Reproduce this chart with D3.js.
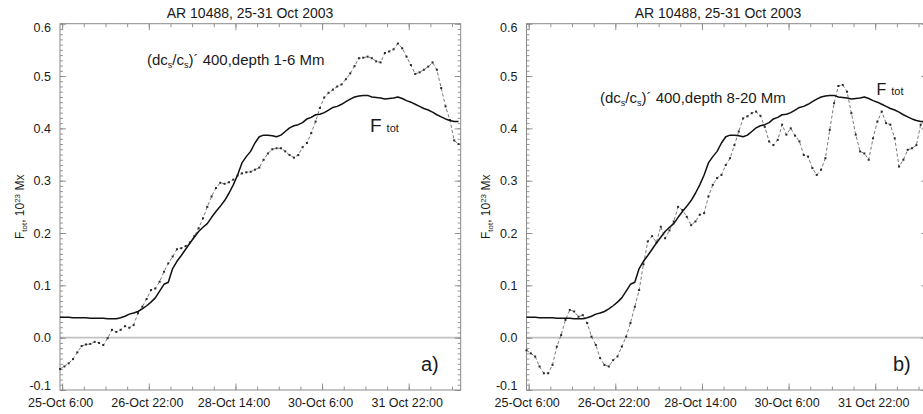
<!DOCTYPE html>
<html><head><meta charset="utf-8">
<script src="https://cdn.jsdelivr.net/npm/d3@7"></script>
<style>
body{margin:0;background:#fff}
svg{display:block}
text{font-family:"Liberation Sans",Arial,sans-serif;fill:#1a1a1a}
</style>
</head><body>
<svg id="chart" width="923" height="414"></svg>
<script>
// time axis: hours since 25-Oct-2003 00:00, samples every 2 hours
const TIME_START = 5;
const TIME_STEP = 2;
const X_DOMAIN = [5, 190];
const Y_DOMAIN = [-0.1, 0.6];

// total magnetic flux F_tot (10^23 Mx) - same curve in both panels
const F_TOT = [
 0.039,0.039,0.039,0.038,0.038,0.038,0.038,0.037,0.037,0.037,
 0.037,0.036,0.036,0.036,0.038,0.041,0.045,0.047,0.050,0.055,
 0.061,0.068,0.076,0.089,0.102,0.106,0.132,0.146,0.157,0.169,
 0.181,0.192,0.203,0.211,0.218,0.230,0.241,0.251,0.262,0.276,
 0.292,0.311,0.334,0.346,0.356,0.372,0.384,0.387,0.387,0.386,
 0.384,0.387,0.394,0.401,0.405,0.407,0.411,0.418,0.421,0.426,
 0.427,0.430,0.435,0.440,0.442,0.446,0.451,0.456,0.460,0.462,
 0.463,0.463,0.460,0.459,0.458,0.456,0.457,0.458,0.460,0.457,
 0.453,0.450,0.446,0.442,0.438,0.435,0.431,0.426,0.422,0.418,
 0.415,0.413,0.413
];

// (dcs/cs)' 400, depth 1-6 Mm
const DCS_DEPTH_1_6 = [
 -0.060,-0.055,-0.049,-0.041,-0.028,-0.016,-0.013,-0.012,-0.008,-0.010,
 -0.014,-0.001,0.015,0.011,0.015,0.022,0.019,0.024,0.047,0.059,
 0.074,0.091,0.094,0.107,0.126,0.142,0.155,0.169,0.171,0.175,
 0.182,0.194,0.209,0.228,0.250,0.270,0.286,0.296,0.294,0.297,
 0.302,0.310,0.314,0.316,0.317,0.321,0.325,0.340,0.352,0.360,
 0.362,0.362,0.356,0.349,0.344,0.349,0.364,0.372,0.391,0.413,
 0.439,0.459,0.468,0.474,0.480,0.484,0.494,0.505,0.519,0.534,
 0.535,0.537,0.534,0.528,0.526,0.544,0.547,0.551,0.562,0.553,
 0.537,0.521,0.504,0.507,0.512,0.518,0.526,0.512,0.477,0.442,
 0.416,0.377,0.370
];

// (dcs/cs)' 400, depth 8-20 Mm
const DCS_DEPTH_8_20 = [
 -0.024,-0.030,-0.036,-0.055,-0.068,-0.068,-0.052,-0.017,0.005,0.034,
 0.053,0.050,0.040,0.043,0.028,0.002,-0.014,-0.039,-0.052,-0.055,
 -0.043,-0.036,-0.017,0.002,0.028,0.059,0.091,0.140,0.184,0.194,
 0.182,0.212,0.190,0.205,0.222,0.250,0.244,0.231,0.215,0.222,
 0.235,0.238,0.270,0.292,0.305,0.311,0.330,0.343,0.368,0.394,
 0.419,0.423,0.429,0.432,0.424,0.403,0.375,0.368,0.378,0.407,
 0.388,0.400,0.386,0.375,0.349,0.346,0.324,0.311,0.321,0.343,
 0.397,0.448,0.481,0.483,0.470,0.429,0.388,0.356,0.352,0.340,
 0.381,0.413,0.432,0.410,0.407,0.381,0.327,0.340,0.359,0.362,
 0.368,0.407,0.415
];

const X_TICKS = [6, 46, 86, 126, 166];
const X_TICK_LABELS = ["25-Oct 6:00","26-Oct 22:00","28-Oct 14:00","30-Oct 6:00","31 Oct 22:00"];
const X_MINOR_STEP = 10;
const Y_TICKS = [-0.1, 0.0, 0.1, 0.2, 0.3, 0.4, 0.5, 0.6];
const Y_TICK_LABELS = ["-0.1","0.0","0.1","0.2","0.3","0.4","0.5","0.6"];

const TITLE = "AR 10488, 25-31 Oct 2003";
const DEPTHS = ["1-6", "8-20"];
const PANEL_TAGS = ["a)", "b)"];

const svg = d3.select("#chart");
const W = 400.7, TOP = 23.7, BOTTOM = 390;

const panelLayout = [
  {left: 60, titleX: 250, ylabX: 24, annX: 147, annY: 65, fX: 370, fY: 131.5, fSize: 19, tagX: 421},
  {left: 526.5, titleX: 718, ylabX: 490, annX: 600, annY: 103, fX: 876.5, fY: 95, fSize: 16, tagX: 893}
];
const seriesList = [DCS_DEPTH_1_6, DCS_DEPTH_8_20];

panelLayout.forEach((L, pi) => {
  const g = svg.append("g");
  const x = d3.scaleLinear().domain(X_DOMAIN).range([L.left, L.left + W]);
  const y = d3.scaleLinear().domain(Y_DOMAIN).range([BOTTOM, TOP]);
  const x0 = x.range()[0], x1 = x.range()[1];

  const xMinor = d3.range(0, 20).map(i => X_TICKS[0] + i * X_MINOR_STEP)
      .filter(v => v >= X_DOMAIN[0] && v <= X_DOMAIN[1]);
  const yMinor = d3.range(-10, 61).map(i => i / 100);

  // zero line
  g.append("line").attr("x1", x0).attr("x2", x1).attr("y1", y(0)).attr("y2", y(0))
    .attr("stroke", "#c2c2c2").attr("stroke-width", 1.6);

  const axisColor = "#8a8a8a";
  function styleAxis(sel) {
    sel.select(".domain").remove();
    sel.selectAll(".tick line").attr("stroke", axisColor).attr("stroke-width", 0.9);
  }

  // bottom
  g.append("g").attr("transform", `translate(0,${BOTTOM})`)
    .call(d3.axisBottom(x).tickValues(xMinor).tickSize(-3.5).tickFormat("")).call(styleAxis);
  const bx = g.append("g").attr("transform", `translate(0,${BOTTOM})`)
    .call(d3.axisBottom(x).tickValues(X_TICKS).tickSize(-6.5).tickPadding(8)
      .tickFormat((d, i) => X_TICK_LABELS[i])).call(styleAxis);
  bx.selectAll(".tick text").attr("font-size", 12.5).attr("fill", "#1a1a1a")
    .attr("font-family", '"Liberation Sans",Arial,sans-serif').attr("dx", -2);
  // top
  g.append("g").attr("transform", `translate(0,${TOP})`)
    .call(d3.axisTop(x).tickValues(xMinor).tickSize(-3.5).tickFormat("")).call(styleAxis);
  g.append("g").attr("transform", `translate(0,${TOP})`)
    .call(d3.axisTop(x).tickValues(X_TICKS).tickSize(-6.5).tickFormat("")).call(styleAxis);
  // left
  g.append("g").attr("transform", `translate(${x0},0)`)
    .call(d3.axisLeft(y).tickValues(yMinor).tickSize(-3).tickFormat("")).call(styleAxis);
  const ly = g.append("g").attr("transform", `translate(${x0},0)`)
    .call(d3.axisLeft(y).tickValues(Y_TICKS).tickSize(-6).tickPadding(9)
      .tickFormat((d, i) => Y_TICK_LABELS[i])).call(styleAxis);
  ly.selectAll(".tick text").attr("font-size", 12.5).attr("fill", "#1a1a1a")
    .attr("font-family", '"Liberation Sans",Arial,sans-serif')
    .attr("dy", d => d === Y_DOMAIN[0] ? "-0.05em" : d === Y_DOMAIN[1] ? "0.65em" : "0.32em");
  // right
  g.append("g").attr("transform", `translate(${x1},0)`)
    .call(d3.axisRight(y).tickValues(yMinor).tickSize(-3).tickFormat("")).call(styleAxis);
  g.append("g").attr("transform", `translate(${x1},0)`)
    .call(d3.axisRight(y).tickValues(Y_TICKS).tickSize(-6).tickFormat("")).call(styleAxis);

  // frame
  g.append("rect").attr("x", x0).attr("y", TOP).attr("width", x1 - x0).attr("height", BOTTOM - TOP)
    .attr("fill", "none").attr("stroke", axisColor).attr("stroke-width", 1);

  const tAt = i => TIME_START + i * TIME_STEP;
  // dashed helioseismic series
  const series = seriesList[pi];
  g.append("path").datum(series)
    .attr("d", d3.line().x((d, i) => x(tAt(i))).y(d => y(d)))
    .attr("fill", "none").attr("stroke", "#6a6a6a").attr("stroke-width", 0.9)
    .attr("stroke-dasharray", "3.2,2.2");
  g.selectAll("rect.pt").data(series).enter().append("rect").attr("class", "pt")
    .attr("x", (d, i) => x(tAt(i)) - 1).attr("y", d => y(d) - 1)
    .attr("width", 2).attr("height", 2).attr("fill", "#2a2a2a");

  // F_tot solid
  g.append("path").datum(F_TOT)
    .attr("d", d3.line().x((d, i) => x(tAt(i))).y(d => y(d)))
    .attr("fill", "none").attr("stroke", "#111").attr("stroke-width", 1.5)
    .attr("stroke-linejoin", "round");

  // title
  svg.append("text").attr("x", L.titleX).attr("y", 18).attr("text-anchor", "middle")
    .attr("font-size", 14).text(TITLE);

  // y label
  const yl = svg.append("text").attr("text-anchor", "middle")
    .attr("transform", `translate(${L.ylabX},${(TOP + BOTTOM) / 2}) rotate(-90)`)
    .attr("font-size", 12);
  yl.append("tspan").text("F");
  yl.append("tspan").attr("font-size", 8).attr("dy", 2.5).text("tot");
  yl.append("tspan").attr("dy", -2.5).text(", 10");
  yl.append("tspan").attr("font-size", 8).attr("dy", -4.5).text("23");
  yl.append("tspan").attr("dy", 4.5).text(" Mx");

  // annotation
  const an = svg.append("text").attr("x", L.annX).attr("y", L.annY).attr("font-size", 15);
  an.append("tspan").text("(dc");
  an.append("tspan").attr("font-size", 9).attr("dy", 3).text("s");
  an.append("tspan").attr("dy", -3).text("/c");
  an.append("tspan").attr("font-size", 9).attr("dy", 3).text("s");
  an.append("tspan").attr("dy", -3).text(")\u00B4 400,depth " + DEPTHS[pi] + " Mm");

  // F_tot label
  const fl = svg.append("text").attr("x", L.fX).attr("y", L.fY).attr("font-size", L.fSize);
  fl.append("tspan").text("F");
  fl.append("tspan").attr("font-size", 11).attr("dx", 5).text("tot");

  // panel tag
  svg.append("text").attr("x", L.tagX).attr("y", 371).attr("font-size", 20).text(PANEL_TAGS[pi]);
});
</script>
</body></html>
